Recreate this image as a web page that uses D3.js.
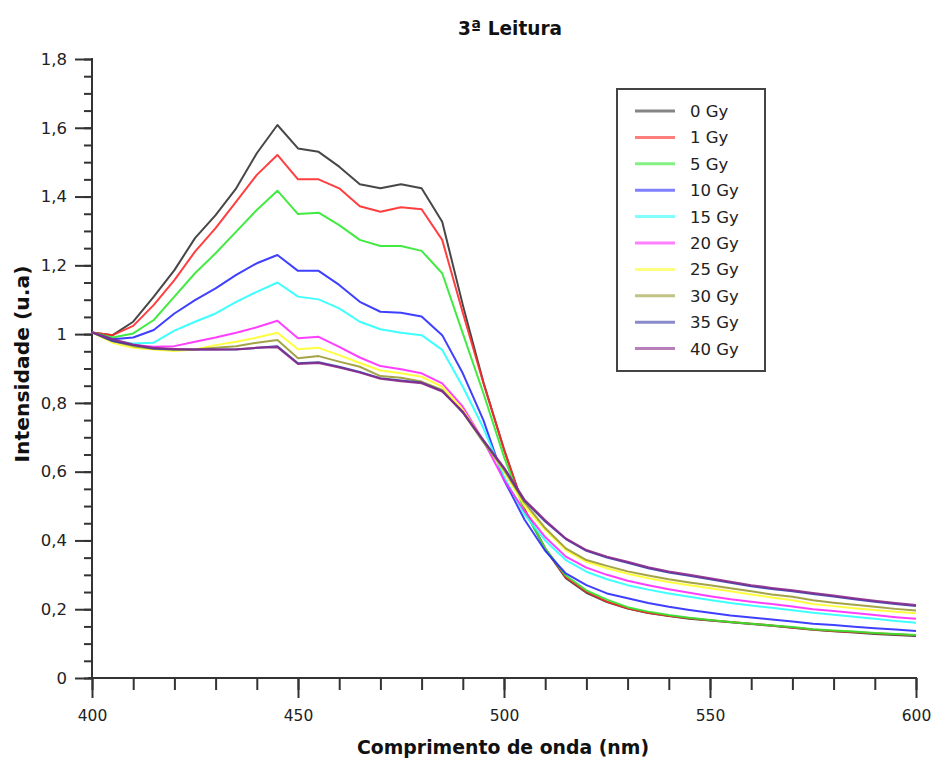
<!DOCTYPE html>
<html><head><meta charset="utf-8">
<script src="https://cdn.jsdelivr.net/npm/d3@7"></script>
<style>
body{margin:0;background:#fff;}
svg{display:block;}
text{font-family:"DejaVu Sans",Verdana,sans-serif;}
.bold{font-family:"DejaVu Sans Condensed","DejaVu Sans",sans-serif;font-stretch:condensed;font-weight:bold;}
</style>
</head><body>
<svg id="chart" width="935" height="760"></svg>
<script>
const wavelengths = d3.range(400, 601, 5);
const seriesNames = ["0 Gy","1 Gy","5 Gy","10 Gy","15 Gy","20 Gy","25 Gy","30 Gy","35 Gy","40 Gy"];
const seriesColors = ["#333333","#ff2a2a","#2ee82e","#2a2aff","#2affff","#ff2aff","#ffff2a","#999933","#3a3aa8","#8a2a8a"];

const gy0  = [1.005,0.997,1.036,1.109,1.186,1.279,1.346,1.424,1.526,1.608,1.540,1.530,1.487,1.436,1.424,1.436,1.424,1.327,1.085,0.860,0.665,0.490,0.375,0.290,0.248,0.221,0.202,0.189,0.180,0.172,0.167,0.162,0.157,0.152,0.146,0.140,0.136,0.132,0.128,0.125,0.122];
const gy1  = [1.005,0.997,1.024,1.085,1.157,1.240,1.308,1.385,1.463,1.521,1.450,1.450,1.424,1.372,1.356,1.369,1.363,1.274,1.062,0.858,0.664,0.490,0.377,0.293,0.251,0.222,0.203,0.190,0.181,0.174,0.168,0.163,0.158,0.153,0.147,0.141,0.137,0.134,0.130,0.127,0.124];
const gy5  = [1.005,0.990,1.002,1.041,1.109,1.177,1.235,1.298,1.361,1.417,1.349,1.353,1.317,1.274,1.256,1.256,1.242,1.177,1.002,0.828,0.643,0.485,0.377,0.298,0.255,0.228,0.206,0.193,0.183,0.175,0.169,0.163,0.158,0.153,0.148,0.142,0.138,0.135,0.131,0.128,0.125];
const gy10 = [1.005,0.985,0.990,1.012,1.060,1.099,1.133,1.172,1.206,1.230,1.184,1.184,1.143,1.094,1.065,1.062,1.051,0.997,0.886,0.750,0.576,0.460,0.370,0.304,0.270,0.246,0.232,0.218,0.207,0.198,0.190,0.182,0.176,0.170,0.164,0.158,0.154,0.149,0.145,0.141,0.137];
const gy15 = [1.005,0.980,0.973,0.975,1.010,1.036,1.060,1.094,1.123,1.150,1.109,1.101,1.075,1.036,1.014,1.004,0.997,0.954,0.847,0.727,0.585,0.475,0.400,0.343,0.309,0.287,0.270,0.257,0.246,0.236,0.227,0.218,0.211,0.204,0.197,0.190,0.184,0.178,0.172,0.166,0.161];
const gy20 = [1.005,0.980,0.968,0.963,0.965,0.978,0.990,1.004,1.020,1.039,0.988,0.992,0.963,0.932,0.907,0.898,0.886,0.857,0.789,0.690,0.576,0.485,0.410,0.353,0.321,0.300,0.283,0.270,0.258,0.248,0.238,0.229,0.222,0.215,0.208,0.200,0.195,0.189,0.183,0.177,0.172];
const gy25 = [1.005,0.975,0.960,0.955,0.951,0.955,0.968,0.978,0.990,1.004,0.956,0.960,0.939,0.916,0.894,0.886,0.876,0.847,0.780,0.690,0.600,0.500,0.430,0.372,0.338,0.319,0.303,0.290,0.279,0.270,0.261,0.252,0.243,0.234,0.226,0.215,0.209,0.203,0.198,0.193,0.188];
const gy30 = [1.005,0.980,0.965,0.957,0.955,0.955,0.960,0.965,0.975,0.983,0.930,0.936,0.920,0.905,0.878,0.873,0.862,0.838,0.772,0.685,0.605,0.510,0.436,0.377,0.343,0.326,0.310,0.298,0.287,0.278,0.270,0.261,0.252,0.243,0.236,0.226,0.219,0.213,0.207,0.201,0.196];
const gy35 = [1.005,0.980,0.968,0.958,0.955,0.955,0.955,0.955,0.960,0.965,0.915,0.918,0.905,0.890,0.872,0.865,0.859,0.835,0.772,0.690,0.610,0.515,0.455,0.404,0.370,0.350,0.335,0.319,0.307,0.297,0.287,0.277,0.267,0.259,0.252,0.244,0.237,0.229,0.222,0.215,0.209];
const gy40 = [1.005,0.985,0.970,0.960,0.957,0.955,0.955,0.956,0.960,0.962,0.913,0.916,0.903,0.888,0.870,0.863,0.857,0.833,0.775,0.692,0.612,0.518,0.459,0.406,0.372,0.353,0.338,0.322,0.310,0.300,0.290,0.280,0.270,0.262,0.255,0.247,0.240,0.232,0.225,0.218,0.212];
const seriesValues = [gy0,gy1,gy5,gy10,gy15,gy20,gy25,gy30,gy35,gy40];

const xMajorTicks = [400,450,500,550,600];
const xMinorTicks = d3.range(400, 601, 10);
const yMajorTicks = [0,0.2,0.4,0.6,0.8,1,1.2,1.4,1.6,1.8];
const yMinorTicks = d3.range(0, 1.801, 0.05);
const yTickLabels = ["0","0,2","0,4","0,6","0,8","1","1,2","1,4","1,6","1,8"];

const titleText = "3ª Leitura";
const xTitle = "Comprimento de onda (nm)";
const yTitle = "Intensidade (u.a)";

const svg = d3.select("#chart");
const L = 92, R = 916, T = 59, B = 678;
const x = d3.scaleLinear().domain([400,600]).range([L,R]);
const y = d3.scaleLinear().domain([0,1.8]).range([B,T]);
const axisColor = "#333";

// y axis
const gy = svg.append("g").attr("transform",`translate(${L},0)`);
gy.call(d3.axisLeft(y).tickValues(yMinorTicks).tickSize(8).tickFormat(""))
  .call(g=>g.select(".domain").remove());
gy.append("g").call(d3.axisLeft(y).tickValues(yMajorTicks).tickSize(17).tickPadding(8)
   .tickFormat((d,i)=>yTickLabels[i]))
  .call(g=>g.select(".domain").remove())
  .call(g=>g.selectAll("text").attr("font-size",16.5).attr("fill","#222").attr("font-family","DejaVu Sans, Verdana, sans-serif"));
gy.selectAll("line").attr("stroke",axisColor).attr("stroke-width",2);
gy.append("line").attr("x1",0).attr("x2",0).attr("y1",T-1).attr("y2",B+1).attr("stroke",axisColor).attr("stroke-width",2);

// x axis
const gx = svg.append("g").attr("transform",`translate(0,${B})`);
gx.call(d3.axisBottom(x).tickValues(xMinorTicks).tickSize(12).tickFormat(""))
  .call(g=>g.select(".domain").remove());
gx.append("g").call(d3.axisBottom(x).tickValues(xMajorTicks).tickSize(20).tickPadding(12).tickFormat(d3.format("d")))
  .call(g=>g.select(".domain").remove())
  .call(g=>g.selectAll("text").attr("font-size",15.5).attr("fill","#222")
     .attr("font-family","DejaVu Sans, Verdana, sans-serif"));
gx.selectAll("line").attr("stroke",axisColor).attr("stroke-width",2);
gx.append("line").attr("x1",L-4).attr("x2",R+1).attr("y1",0).attr("y2",0).attr("stroke",axisColor).attr("stroke-width",2);

// lines
const line = d3.line().x((d,i)=>x(wavelengths[i])).y(d=>y(d));
svg.append("g").selectAll("path").data(seriesValues).join("path")
  .attr("d",line).attr("fill","none")
  .attr("stroke",(d,i)=>seriesColors[i]).attr("stroke-width",2)
  .attr("stroke-linejoin","round").attr("stroke-opacity",0.9);

// titles
svg.append("text").attr("class","bold").attr("x",510).attr("y",35).attr("text-anchor","middle")
  .attr("font-size",20).attr("fill","#111")
  .attr("textLength",104).attr("lengthAdjust","spacingAndGlyphs").text(titleText);
svg.append("text").attr("class","bold").attr("x",503).attr("y",754).attr("text-anchor","middle")
  .attr("font-size",20).attr("fill","#111")
  .attr("textLength",292).attr("lengthAdjust","spacingAndGlyphs").text(xTitle);
svg.append("text").attr("class","bold").attr("transform","translate(29,364) rotate(-90)").attr("text-anchor","middle")
  .attr("font-size",20).attr("fill","#111")
  .attr("textLength",197).attr("lengthAdjust","spacingAndGlyphs").text(yTitle);

// legend
const lg = svg.append("g").attr("transform","translate(617,89)");
lg.append("rect").attr("x",0).attr("y",0).attr("width",148).attr("height",282)
  .attr("fill","#fff").attr("stroke","#444").attr("stroke-width",2);
const rows = lg.selectAll("g.row").data(seriesNames).join("g").attr("class","row")
  .attr("transform",(d,i)=>`translate(0,${22+i*26.4})`);
rows.append("line").attr("x1",18).attr("x2",58).attr("y1",0).attr("y2",0)
  .attr("stroke",(d,i)=>seriesColors[i]).attr("stroke-width",3).attr("stroke-opacity",0.6);
rows.append("text").attr("x",73).attr("y",6).attr("font-size",16.5).attr("fill","#222").text(d=>d);
</script>
</body></html>
